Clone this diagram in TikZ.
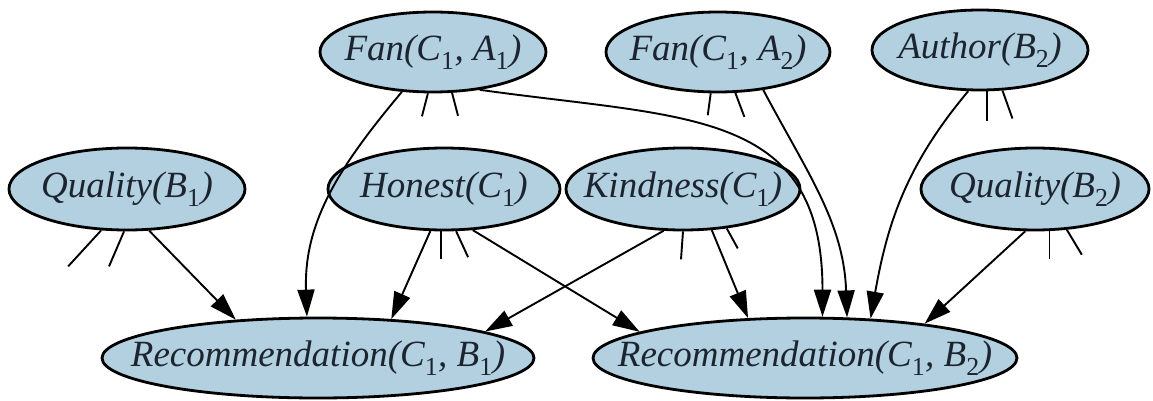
\documentclass[tikz,border=0pt]{standalone}
\usepackage{fontspec}
\setmainfont{Liberation Serif}
\usetikzlibrary{arrows.meta,shapes.geometric}
\definecolor{nodeblue}{RGB}{178,208,224}
\definecolor{inkdark}{RGB}{28,36,48}
\newcommand{\vlabel}[1]{\makebox[0pt]{#1}}
\newcommand{\idx}[1]{\textsubscript{\upshape #1}}

\begin{document}
\begin{tikzpicture}[x=1pt, y=-1pt, >={Triangle[length=27pt,width=17pt]},
    var/.style={ellipse, draw=black, line width=2.8pt, fill=nodeblue, inner sep=0pt,
      minimum height=80pt, text=inkdark, font=\fontsize{37}{40}\selectfont\itshape},
    edge/.style={->, line width=1.9pt},
    stub/.style={line width=1.9pt}]
  \useasboundingbox (0,0) rectangle (1153,401);

  % top row
  \node[var, minimum width=226pt] (fanA) at (433,52) {\vlabel{Fan(C\idx1, A\idx1)}};
  \node[var, minimum width=224pt] (fanB) at (718,52) {\vlabel{Fan(C\idx1, A\idx2)}};
  \node[var, minimum width=216pt] (author) at (980,50) {\vlabel{Author(B\idx2)}};

  % middle row
  \node[var, minimum width=236pt, minimum height=82pt] (qualA) at (127,189) {\vlabel{Quality(B\idx1)}};
  \node[var, minimum width=232pt, minimum height=82pt] (honest) at (444,189) {\vlabel{Honest(C\idx1)}};
  \node[var, minimum width=234pt, minimum height=82pt] (kind) at (683,189) {\vlabel{Kindness(C\idx1)}};
  \node[var, minimum width=228pt, minimum height=82pt] (qualB) at (1035,189) {\vlabel{Quality(B\idx2)}};

  % bottom row
  \node[var, minimum width=432pt] (rec1) at (318,358) {\vlabel{Recommendation(C\idx1, B\idx1)}};
  \node[var, minimum width=424pt] (rec2) at (805,358) {\vlabel{Recommendation(C\idx1, B\idx2)}};

  % parents of rec1
  \draw[edge] (qualA.-62) -- (rec1.155);
  \draw[edge] (fanA.-128) to[out=-130, in=92] (rec1.105);
  \draw[edge] (honest.-108) -- (rec1.28);
  \draw[edge] (kind.-115) -- (rec1.9);

  % parents of rec2
  \draw[edge] (honest.-55) -- (rec2.171);
  \draw[edge] (kind.-55) -- (rec2.145);
  \draw[edge] (fanA.-39) to[out=-8, in=90, looseness=1.3] (rec2.67);
  \draw[edge] (fanB.-40) to[out=-62, in=92] (rec2.44);
  \draw[edge] (author.-106) to[out=-130, in=80] (rec2.31);
  \draw[edge] (qualB.-103) -- (rec2.16);

  % cut-off links
  \draw[stub] (fanA.-97) -- ++(-6,23);
  \draw[stub] (fanA.-65) -- ++(6,23);
  \draw[stub] (fanB.-100) -- ++(-3,22);
  \draw[stub] (fanB.-67) -- ++(9,24);
  \draw[stub] (author.-80) -- ++(0,30);
  \draw[stub] (author.-61) -- ++(10,28);
  \draw[stub] (qualA.-122) -- ++(-33,36);
  \draw[stub] (qualA.-94) -- ++(-15,35);
  \draw[stub] (honest.-94) -- ++(0,28);
  \draw[stub] (honest.-74) -- ++(12,26);
  \draw[stub] (kind.-90) -- ++(-2,28);
  \draw[stub] (kind.-42) -- ++(11,20);
  \draw[stub] (qualB.-71) -- ++(0,28);
  \draw[stub] (qualB.-52) -- ++(15,25);
\end{tikzpicture}
\end{document}
